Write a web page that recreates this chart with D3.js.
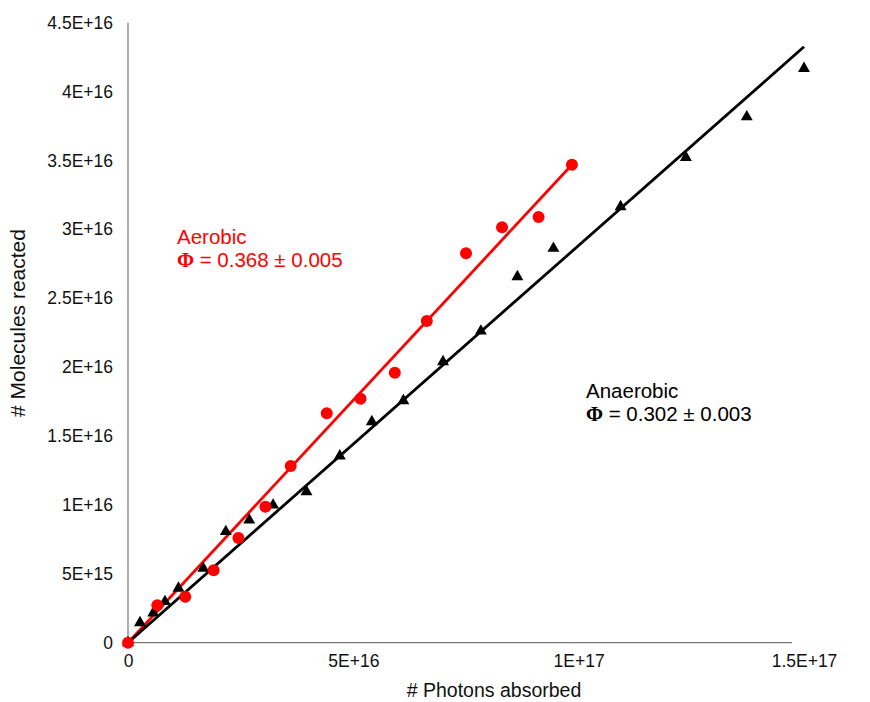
<!DOCTYPE html>
<html><head><meta charset="utf-8">
<script src="https://cdn.jsdelivr.net/npm/d3@7"></script>
<style>
body{margin:0;background:#fff;}
text{font-family:"Liberation Sans",Arial,Helvetica,sans-serif;}
</style></head>
<body><svg id="c" width="870" height="702"></svg>
<script>
// Aerobic (red circles)
const aerobicX = [0, 6.5e15, 12.7e15, 19.0e15, 24.5e15, 30.5e15, 36.1e15, 44.1e15, 51.6e15, 59.2e15, 66.3e15, 75.0e15, 83.0e15, 91.1e15, 98.5e15];
const aerobicY = [0, 2.71e15, 3.34e15, 5.25e15, 7.60e15, 9.87e15, 12.82e15, 16.65e15, 17.71e15, 19.59e15, 23.35e15, 28.26e15, 30.15e15, 30.89e15, 34.69e15];
// Anaerobic (black triangles)
const anaerobicX = [0, 2.66e15, 5.6e15, 8.2e15, 11.2e15, 16.7e15, 21.7e15, 26.9e15, 32.2e15, 39.6e15, 47.0e15, 54.1e15, 61.1e15, 69.9e15, 78.3e15, 86.4e15, 94.4e15, 109.3e15, 123.8e15, 137.3e15, 150.0e15];
const anaerobicY = [0, 1.45e15, 2.16e15, 2.98e15, 3.95e15, 5.40e15, 8.06e15, 8.90e15, 9.99e15, 10.96e15, 13.55e15, 16.04e15, 17.56e15, 20.39e15, 22.62e15, 26.56e15, 28.62e15, 31.64e15, 35.22e15, 38.17e15, 41.68e15];
// Linear fits (through origin)
const aerobicFitX = [0, 98.5e15];
const aerobicFitY = [0, 34.69e15];
const anaerobicFitX = [0, 150.0e15];
const anaerobicFitY = [0, 43.25e15];
const xTicks = [0, 5e16, 1e17, 1.5e17];
const xTickLabels = ["0", "5E+16", "1E+17", "1.5E+17"];
const yTicks = [0, 5e15, 1e16, 1.5e16, 2e16, 2.5e16, 3e16, 3.5e16, 4e16, 4.5e16];
const yTickLabels = ["0", "5E+15", "1E+16", "1.5E+16", "2E+16", "2.5E+16", "3E+16", "3.5E+16", "4E+16", "4.5E+16"];

const svg = d3.select("#c");
const x = d3.scaleLinear().domain([0, 1.5e17]).range([128, 804]);
const y = d3.scaleLinear().domain([0, 4.5e16]).range([642.7, 22.7]);

// axes
const xAxis = d3.axisBottom(x).tickValues(xTicks).tickSize(0).tickPadding(12)
  .tickFormat((d, i) => xTickLabels[i]);
const gx = svg.append("g").attr("transform", `translate(0,${y(0)})`).call(xAxis);
gx.select(".domain").remove();
gx.selectAll("text").attr("font-size", 17.5).attr("fill", "#111")
  .attr("font-family", "Liberation Sans, Arial, sans-serif");
svg.append("line").attr("x1", x(0)).attr("x2", 792).attr("y1", y(0)).attr("y2", y(0))
  .attr("stroke", "#777").attr("stroke-width", 1.2);

const yAxis = d3.axisLeft(y).tickValues(yTicks).tickSize(0).tickPadding(15)
  .tickFormat((d, i) => yTickLabels[i]);
const gy = svg.append("g").attr("transform", `translate(${x(0)},0)`).call(yAxis);
gy.select(".domain").remove();
gy.selectAll("text").attr("font-size", 17.5).attr("fill", "#111")
  .attr("font-family", "Liberation Sans, Arial, sans-serif");
svg.append("line").attr("x1", x(0)).attr("x2", x(0)).attr("y1", y(0)).attr("y2", y(4.5e16))
  .attr("stroke", "#777").attr("stroke-width", 1.2);

// fit lines
const line = d3.line().x(d => x(d[0])).y(d => y(d[1]));
svg.append("path").datum(aerobicFitX.map((v, i) => [v, aerobicFitY[i]]))
  .attr("d", line).attr("stroke", "#ff0000").attr("stroke-width", 2.8).attr("fill", "none");
svg.append("path").datum(anaerobicFitX.map((v, i) => [v, anaerobicFitY[i]]))
  .attr("d", line).attr("stroke", "#000").attr("stroke-width", 2.8).attr("fill", "none");

// points
const tri = d3.symbol().type(d3.symbolTriangle).size(62);
svg.append("g").selectAll("path").data(anaerobicX.map((v, i) => [v, anaerobicY[i]]))
  .join("path").attr("d", tri)
  .attr("transform", d => `translate(${x(d[0])},${y(d[1])})`).attr("fill", "#000");
svg.append("g").selectAll("circle").data(aerobicX.map((v, i) => [v, aerobicY[i]]))
  .join("circle").attr("cx", d => x(d[0])).attr("cy", d => y(d[1])).attr("r", 6)
  .attr("fill", "#ff0000");

// axis titles
svg.append("text").attr("x", 494).attr("y", 697).attr("text-anchor", "middle")
  .attr("font-size", 19.5).attr("fill", "#111").text("# Photons absorbed");
svg.append("text").attr("transform", "translate(25,323) rotate(-90)").attr("text-anchor", "middle")
  .attr("font-size", 21).attr("fill", "#111").text("# Molecules reacted");

// annotations
function annot(xp, yp, name, val, col) {
  svg.append("text").attr("x", xp).attr("y", yp).attr("font-size", 20.5).attr("fill", col).text(name);
  const t = svg.append("text").attr("x", xp).attr("y", yp + 23).attr("font-size", 20.5).attr("fill", col);
  t.append("tspan").attr("font-family", "Liberation Serif, Times New Roman, serif")
    .attr("font-weight", "bold").text("Φ");
  t.append("tspan").text(" = " + val);
}
annot(177, 244, "Aerobic", "0.368 ± 0.005", "#ff0000");
annot(586, 398, "Anaerobic", "0.302 ± 0.003", "#000");
</script></body></html>
